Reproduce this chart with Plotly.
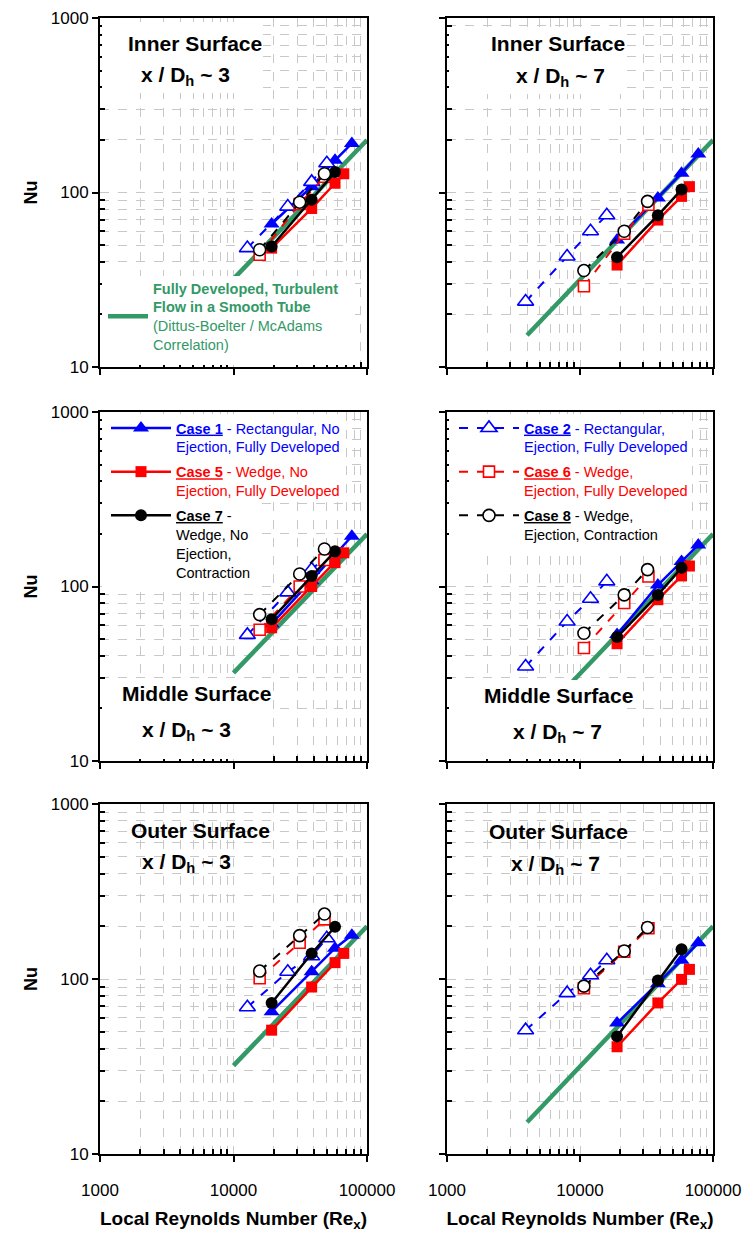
import plotly.graph_objects as go

# ---------------- data ----------------
# Local Reynolds numbers, left column (x/Dh ~ 3) and right column (x/Dh ~ 7)
re_c1_L = [19300, 38500, 57600, 77000]
re_c5_L = [19300, 38500, 57600, 67000]
re_c7_L = [19300, 38500, 57600]
re_c2_L = [12700, 25500, 38500, 50000]
re_c6_L = [15700, 31300, 48000]
re_c8_L = [15700, 31300, 48000]

re_c1_R = [19000, 38500, 58000, 77500]
re_c5_R = [19000, 38500, 58000, 66500]
re_c7_R = [19000, 38500, 58000]
re_c2_R = [3900, 8000, 12000, 15900]
re_c6_R = [10700, 21500, 32700]
re_c8_R = [10700, 21500, 32200]

# Dittus-Boelter / McAdams correlation line end points
green_re_L = [10000, 100000]
green_nu_L = [32, 200]
green_re_R = [4000, 100000]
green_nu_R = [15.2, 200]

# Nusselt numbers per panel
nu_inner3 = {"c1": [66, 108, 153, 191], "c2": [48, 83, 115, 147],
             "c5": [48, 81, 113, 128], "c6": [44, 86, 123],
             "c7": [49, 91, 131], "c8": [47, 88, 128]}
nu_inner7 = {"c1": [53.5, 93, 129, 166], "c2": [23.7, 43, 60, 74],
             "c5": [38.4, 69.5, 95, 108], "c6": [29, 58, 85],
             "c7": [42.6, 74, 104], "c8": [35.7, 60, 89]}
nu_middle3 = {"c1": [61, 108, 152, 194], "c2": [52.8, 92.5, 125, 150],
              "c5": [58, 100, 137, 156], "c6": [56.5, 100, 142],
              "c7": [65, 115, 159], "c8": [69, 118, 164]}
nu_middle7 = {"c1": [53, 102, 139, 173], "c2": [34.8, 63, 85, 107],
              "c5": [47, 84, 115, 131], "c6": [44.4, 80.4, 114],
              "c7": [51.3, 89.5, 128], "c8": [54, 89.5, 125]}
nu_outer3 = {"c1": [65, 110, 150, 178], "c2": [69, 110, 135, 171],
             "c5": [51, 90, 124, 140], "c6": [101, 161, 219],
             "c7": [73, 140, 199], "c8": [111, 177, 235]}
nu_outer7 = {"c1": [56, 94, 128, 161], "c2": [51, 83, 105, 128],
             "c5": [41, 73, 99.5, 113.5], "c6": [88.5, 143, 195],
             "c7": [47, 98, 148], "c8": [91, 144.5, 197]}

x_tick_vals = [1000, 10000, 100000]
x_tick_text = ["1000", "10000", "100000"]
y_tick_vals = [10, 100, 1000]
y_tick_text = ["10", "100", "1000"]
x_minor = [2000, 3000, 4000, 5000, 6000, 7000, 8000, 9000,
           20000, 30000, 40000, 50000, 60000, 70000, 80000, 90000]
y_minor = [20, 30, 40, 50, 60, 70, 80, 90,
           200, 300, 400, 500, 600, 700, 800, 900]

panel_titles = [("Inner Surface", "3"), ("Inner Surface", "7"),
                ("Middle Surface", "3"), ("Middle Surface", "7"),
                ("Outer Surface", "3"), ("Outer Surface", "7")]

# ---------------- styling ----------------
FONT = "Arial, Liberation Sans, sans-serif"
BLUE, RED, BLACK, GREEN = "#0000FF", "#FF0000", "#000000", "#339966"
GRID = "#C8C8C8"

W, H = 745, 1235
L, R, T, B = 100, 32, 18, 81
PW, PH = W - L - R, H - T - B


def px_x(px):
    return (px - L) / PW


def px_y(py):
    return (H - B - py) / PH


col_px = [(100, 367), (447, 713)]
row_px = [(18, 367), (412, 761), (804, 1154)]

panels = [nu_inner3, nu_inner7, nu_middle3, nu_middle7, nu_outer3, nu_outer7]

case_style = {
    "c1": dict(color=BLUE, symbol="triangle-up", size=14, open=False),
    "c2": dict(color=BLUE, symbol="triangle-up", size=14, open=True),
    "c5": dict(color=RED, symbol="square", size=11, open=False),
    "c6": dict(color=RED, symbol="square", size=11, open=True),
    "c7": dict(color=BLACK, symbol="circle", size=12, open=False),
    "c8": dict(color=BLACK, symbol="circle", size=12, open=True),
}


def legend_text(color, head, rest, lines):
    first = (f'<span style="color:{color}"><b><u>{head}</u></b>{rest}</span>')
    others = [f'<span style="color:{color}">{ln}</span>' for ln in lines]
    return "<br>".join([first] + others)


case_names = {
    "c1": legend_text(BLUE, "Case 1", " - Rectangular, No", ["Ejection, Fully Developed"]),
    "c5": legend_text(RED, "Case 5", " - Wedge, No", ["Ejection, Fully Developed"]),
    "c7": legend_text(BLACK, "Case 7", " -", ["Wedge, No", "Ejection,", "Contraction"]),
    "c2": legend_text(BLUE, "Case 2", " - Rectangular,", ["Ejection, Fully Developed"]),
    "c6": legend_text(RED, "Case 6", " - Wedge,", ["Ejection, Fully Developed"]),
    "c8": legend_text(BLACK, "Case 8", " - Wedge,", ["Ejection, Contraction"]),
}
green_name = (f'<span style="color:{GREEN}"><b>Fully Developed, Turbulent</b></span><br>'
              f'<span style="color:{GREEN}"><b>Flow in a Smooth Tube</b></span><br>'
              f'<span style="color:{GREEN}">(Dittus-Boelter / McAdams</span><br>'
              f'<span style="color:{GREEN}">Correlation)</span>')

fig = go.Figure()

for k, nu in enumerate(panels):
    ax = "" if k == 0 else str(k + 1)
    col = k % 2
    if col == 0:
        res = {"c1": re_c1_L, "c2": re_c2_L, "c5": re_c5_L, "c6": re_c6_L,
               "c7": re_c7_L, "c8": re_c8_L}
        gx, gy = green_re_L, green_nu_L
    else:
        res = {"c1": re_c1_R, "c2": re_c2_R, "c5": re_c5_R, "c6": re_c6_R,
               "c7": re_c7_R, "c8": re_c8_R}
        gx, gy = green_re_R, green_nu_R
    fig.add_trace(go.Scatter(
        x=gx, y=gy, mode="lines", xaxis="x" + ax, yaxis="y" + ax,
        line=dict(color=GREEN, width=4.5), name=green_name,
        legend="legend3", legendgroup="green", showlegend=(k == 0)))
    for c in ["c1", "c2", "c5", "c6", "c7", "c8"]:
        st = case_style[c]
        marker = dict(symbol=st["symbol"], size=st["size"],
                      color="white" if st["open"] else st["color"],
                      line=dict(color=st["color"], width=1.6 if st["open"] else 0))
        leg = "legend2" if st["open"] else "legend"
        fig.add_trace(go.Scatter(
            x=res[c], y=nu[c], mode="lines+markers",
            xaxis="x" + ax, yaxis="y" + ax,
            line=dict(color=st["color"], width=2 if st["open"] else 2.5,
                      dash="dash" if st["open"] else "solid"),
            marker=marker, name=case_names[c], legend=leg, legendgroup=c,
            showlegend=(k == 2 and not st["open"]) or (k == 3 and st["open"])))

layout = dict(
    width=W, height=H, margin=dict(l=L, r=R, t=T, b=B, autoexpand=False),
    paper_bgcolor="white", plot_bgcolor="white",
    font=dict(family=FONT, color="black", size=14),
)

for k in range(6):
    ax = "" if k == 0 else str(k + 1)
    col = k % 2
    row = k // 2
    xa, xb = col_px[col]
    ya, yb = row_px[row]
    common = dict(type="log", showline=True, linecolor="black", linewidth=2,
                  mirror=True, ticks="outside", ticklen=6, tickwidth=2,
                  tickcolor="black", showgrid=True, gridcolor=GRID,
                  griddash="dash", gridwidth=1,
                  tickfont=dict(family=FONT, size=17, color="black"))
    xaxis = dict(common, range=[3, 5], domain=[px_x(xa), px_x(xb)],
                 anchor="y" + ax, tickvals=x_tick_vals, ticktext=x_tick_text,
                 showticklabels=(row == 2), ticklabelstandoff=14,
                 minor=dict(tickvals=x_minor, ticks="inside", ticklen=5,
                            tickwidth=1.5, tickcolor="black", showgrid=True,
                            gridcolor=GRID, griddash="dash", gridwidth=1))
    if row == 2:
        xaxis["title"] = dict(text="<b>Local Reynolds Number (Re<sub>x</sub>)</b>",
                              font=dict(family=FONT, size=19, color="black"),
                              standoff=12)
    yaxis = dict(common, range=[1, 3], domain=[px_y(yb), px_y(ya)],
                 anchor="x" + ax, tickvals=y_tick_vals, ticktext=y_tick_text,
                 showticklabels=(col == 0),
                 minor=dict(tickvals=y_minor, ticks="inside", ticklen=5,
                            tickwidth=1.5, tickcolor="black", showgrid=True,
                            gridcolor=GRID, griddash="dash", gridwidth=1))
    if col == 0:
        yaxis["title"] = dict(text="<b>Nu</b>",
                              font=dict(family=FONT, size=18, color="black"),
                              standoff=8)
    layout["xaxis" + ax] = xaxis
    layout["yaxis" + ax] = yaxis

# white text-box backgrounds (pixel extents of the reference's text boxes)
boxes = [(102, 22, 263, 93), (449, 31, 622, 94), (102, 276, 355, 365),
         (102, 414, 345, 502), (102, 502, 258, 590),
         (449, 414, 690, 548),
         (102, 680, 273, 759), (449, 680, 627, 759)]
shapes = []
for x0, y0, x1, y1 in boxes:
    shapes.append(dict(type="rect", xref="paper", yref="paper",
                       x0=px_x(x0), x1=px_x(x1), y0=px_y(y1), y1=px_y(y0),
                       fillcolor="white", line=dict(width=0), layer="above"))
layout["shapes"] = shapes

title_pos = [((195, 43), (185, 76)), ((558, 43), (560, 77)),
             ((196, 693), (186, 731)), ((558, 695), (557, 733)),
             ((200, 830), (186, 863)), ((558, 831), (555, 865))]
annotations = []
for (name, xd), ((tx, ty), (sx, sy)) in zip(panel_titles, title_pos):
    annotations.append(dict(text=f"<b>{name}</b>", xref="paper", yref="paper",
                            x=px_x(tx), y=px_y(ty), showarrow=False,
                            font=dict(family=FONT, size=21, color="black"),
                            xanchor="center", yanchor="middle"))
    annotations.append(dict(text=f"<b>x / D<sub>h</sub> ~ {xd}</b>", xref="paper",
                            yref="paper", x=px_x(sx), y=px_y(sy), showarrow=False,
                            font=dict(family=FONT, size=21, color="black"),
                            xanchor="center", yanchor="middle"))
layout["annotations"] = annotations

leg_common = dict(bgcolor="rgba(0,0,0,0)", borderwidth=0, valign="top",
                  font=dict(family=FONT, size=14.5, color="black"),
                  xanchor="left", yanchor="top", tracegroupgap=3,
                  itemwidth=60, itemclick=False, itemdoubleclick=False)
layout["legend"] = dict(leg_common, x=px_x(106), y=px_y(412))
layout["legend2"] = dict(leg_common, x=px_x(454), y=px_y(412))
layout["legend3"] = dict(leg_common, x=px_x(103), y=px_y(272), valign="middle",
                         itemwidth=40)

fig.update_layout(layout)
fig.write_html("out.html")
